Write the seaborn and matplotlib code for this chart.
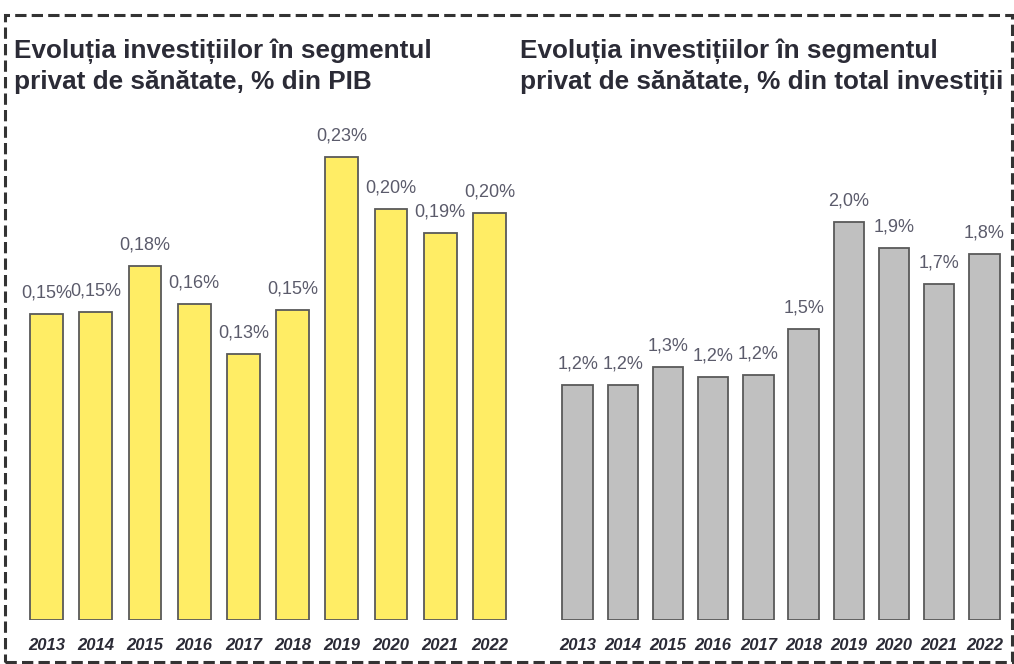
import matplotlib
matplotlib.use('Agg')
import matplotlib.pyplot as plt
from matplotlib.patches import Rectangle
import seaborn as sns

years = ['2013', '2014', '2015', '2016', '2017', '2018', '2019', '2020', '2021', '2022']
pib_share = [0.152, 0.153, 0.176, 0.157, 0.132, 0.154, 0.230, 0.204, 0.192, 0.202]
inv_share = [1.18, 1.18, 1.27, 1.22, 1.23, 1.46, 2.00, 1.87, 1.69, 1.84]

title_left = ['Evoluția investițiilor în segmentul', 'privat de sănătate, % din PIB']
title_right = ['Evoluția investițiilor în segmentul', 'privat de sănătate, % din total investiții']

sns.set_style('white')
plt.rcParams['font.family'] = ['Liberation Sans', 'DejaVu Sans']

W, H = 1014, 664
fig = plt.figure(figsize=(W / 100, H / 100), dpi=100)

dark = '#2b2b36'
label_col = '#5b5b6b'


def px_axes(x0, x1, y_top, y_base):
    return fig.add_axes([x0 / W, (H - y_base) / H, (x1 - x0) / W, (y_base - y_top) / H])


def draw_panel(ax, values, color, ymax, fmt):
    sns.barplot(x=years, y=values, color=color, saturation=1, width=0.67,
                edgecolor='#595959', linewidth=1.3, ax=ax)
    ax.set_ylim(0, ymax)
    ax.set_xlim(-0.5, len(years) - 0.5)
    labels = [fmt(v) for v in values]
    ax.bar_label(ax.containers[0], labels=labels, padding=9, fontsize=13, color=label_col)
    for s in ax.spines.values():
        s.set_visible(False)
    ax.set_yticks([])
    ax.set_xlabel('')
    ax.set_ylabel('')
    ax.tick_params(axis='x', length=0, pad=13)
    for t in ax.get_xticklabels():
        t.set_fontsize(12)
        t.set_fontweight('bold')
        t.set_fontstyle('italic')
        t.set_color(dark)
    ax.patch.set_alpha(0)


ax1 = px_axes(22, 514, 100, 620)
draw_panel(ax1, pib_share, '#FFED65', 0.2583, lambda v: f'{v:.2f}'.replace('.', ',') + '%')

ax2 = px_axes(555, 1007, 100, 620)
draw_panel(ax2, inv_share, '#C0C0C0', 2.613, lambda v: f'{v:.1f}'.replace('.', ',') + '%')

# titles
for x, lines in [(14, title_left), (520, title_right)]:
    for y, line in zip([58, 89], lines):
        fig.text(x / W, 1 - y / H, line, fontsize=18.8, fontweight='bold', color=dark,
                 ha='left', va='baseline')

# dashed frame
fig.patches.append(Rectangle((5 / W, 2 / H), 1007 / W, 647 / H, transform=fig.transFigure,
                             fill=False, edgecolor='#333333', linewidth=2.2,
                             linestyle=(0, (3.7, 1.7))))

fig.savefig('out.png', dpi=100)
